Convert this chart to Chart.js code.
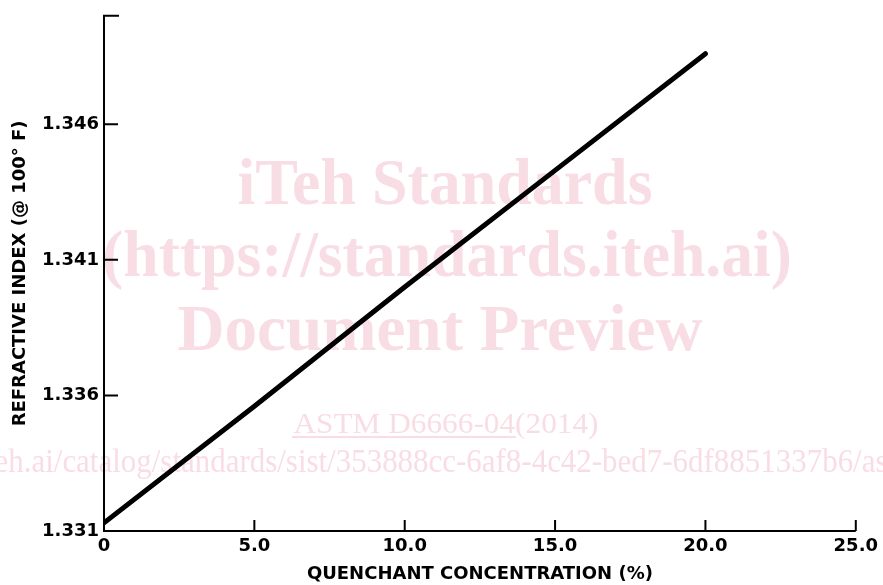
<!DOCTYPE html>
<html>
<head>
<meta charset="utf-8">
<script src="https://cdn.jsdelivr.net/npm/chart.js@4"></script>
<style>
  html, body { margin: 0; padding: 0; background: #fff; }
  #wrap { width: 883px; height: 585px; }
</style>
</head>
<body>
<div id="wrap"><canvas id="refractionChart"></canvas></div>
<script>
const concentration = [0, 5, 10, 15, 20];
const refractiveIndex = [1.3313, 1.3356, 1.3400, 1.3443, 1.3486];
const xTicks = [0, 5, 10, 15, 20, 25];
const yTicks = [1.331, 1.336, 1.341, 1.346];
const yTop = 1.350;

const ink = '#000';
const pink = 'rgb(249, 221, 229)';
const tickFont = { family: 'DejaVu Sans', size: 18, weight: 'bold' };
const titleFont = { family: 'DejaVu Sans', size: 18, weight: 'bold' };

function fitText(ctx, text, cx, y, size, width, bold) {
  ctx.font = (bold ? 'bold ' : '') + size + 'px "Liberation Serif"';
  const w = ctx.measureText(text).width;
  ctx.save();
  ctx.translate(cx, y);
  ctx.scale(width / w, 1);
  ctx.fillText(text, 0, 0);
  ctx.restore();
}

// faint watermark behind the plot
const watermark = {
  id: 'watermark',
  beforeDatasetsDraw(chart) {
    const ctx = chart.ctx;
    ctx.save();
    ctx.fillStyle = pink;
    ctx.textAlign = 'center';
    ctx.textBaseline = 'alphabetic';
    fitText(ctx, 'iTeh Standards', 445, 204, 66, 415, true);
    fitText(ctx, '(https://standards.iteh.ai)', 447, 276, 66, 690, true);
    fitText(ctx, 'Document Preview', 440, 350, 66, 525, true);
    fitText(ctx, 'ASTM D6666-04(2014)', 446, 433, 29, 305, false);
    fitText(ctx, 'eh.ai/catalog/standards/sist/353888cc-6af8-4c42-bed7-6df8851337b6/as', 441, 472, 34, 893, false);
    // underline under the standard number
    ctx.fillRect(292, 436, 224, 2);
    ctx.restore();
  }
};

// axis lines and inward tick marks
const axes = {
  id: 'axes',
  afterDraw(chart) {
    const ctx = chart.ctx;
    const xs = chart.scales.x;
    const ys = chart.scales.y;
    const left = xs.getPixelForValue(0);
    const bottom = ys.getPixelForValue(yTicks[0]);
    const top = ys.getPixelForValue(yTop);
    ctx.save();
    ctx.strokeStyle = ink;
    ctx.lineWidth = 2;
    ctx.beginPath();
    ctx.moveTo(left + 15, top);
    ctx.lineTo(left, top);
    ctx.lineTo(left, bottom);
    ctx.lineTo(xs.getPixelForValue(25), bottom);
    yTicks.slice(1).forEach(v => {
      const y = ys.getPixelForValue(v);
      ctx.moveTo(left, y);
      ctx.lineTo(left + 14, y);
    });
    xTicks.slice(1).forEach(v => {
      const x = xs.getPixelForValue(v);
      ctx.moveTo(x, bottom);
      ctx.lineTo(x, bottom - 11);
    });
    ctx.stroke();
    ctx.restore();
  }
};

new Chart(document.getElementById('refractionChart'), {
  type: 'line',
  data: {
    datasets: [{
      data: concentration.map((c, i) => ({ x: c, y: refractiveIndex[i] })),
      borderColor: ink,
      borderWidth: 5,
      borderCapStyle: 'round',
      pointRadius: 0,
      tension: 0
    }]
  },
  options: {
    responsive: true,
    maintainAspectRatio: false,
    animation: false,
    layout: { padding: { top: 11, right: 21, left: 0, bottom: 0 } },
    plugins: { legend: { display: false }, tooltip: { enabled: false } },
    scales: {
      x: {
        type: 'linear',
        min: 0,
        max: 25,
        grid: { display: false, drawTicks: false },
        border: { display: false },
        afterBuildTicks: s => { s.ticks = xTicks.map(v => ({ value: v })); },
        afterFit: s => { s.height = 54; },
        ticks: {
          color: ink,
          font: tickFont,
          padding: 5,
          maxRotation: 0,
          callback: v => v === 0 ? '0' : v.toFixed(1)
        },
        title: {
          display: true,
          text: 'QUENCHANT CONCENTRATION (%)',
          color: ink,
          font: titleFont,
          padding: { top: 0, bottom: 0 }
        }
      },
      y: {
        type: 'linear',
        min: yTicks[0],
        max: yTop,
        grid: { display: false, drawTicks: false },
        border: { display: false },
        afterBuildTicks: s => { s.ticks = yTicks.map(v => ({ value: v })); },
        afterFit: s => { s.width = 104; },
        ticks: {
          color: ink,
          font: tickFont,
          padding: 5,
          callback: v => v.toFixed(3)
        },
        title: {
          display: true,
          text: 'REFRACTIVE INDEX (@ 100° F)',
          color: ink,
          font: titleFont,
          padding: { top: 10, bottom: 0 }
        }
      }
    }
  },
  plugins: [watermark, axes]
});
</script>
</body>
</html>
